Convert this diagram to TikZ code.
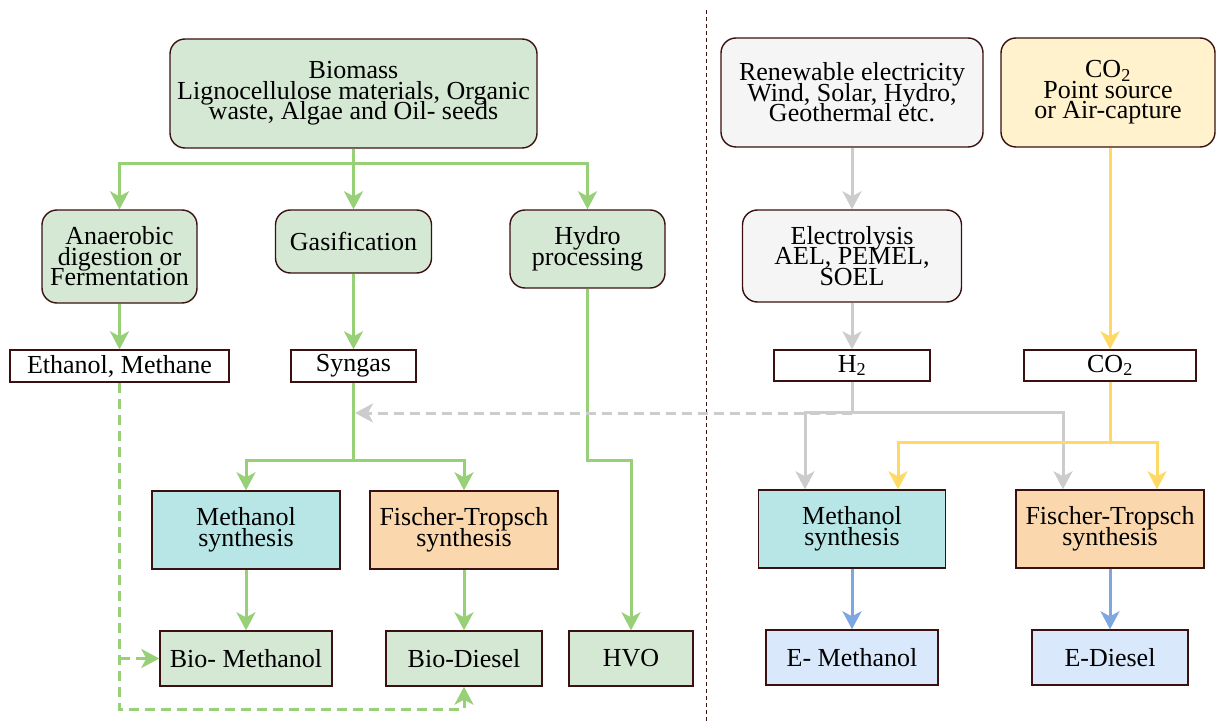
\documentclass[tikz,border=0pt]{standalone}
\usepackage{fontspec}
\setmainfont{Liberation Serif}
\usetikzlibrary{arrows.meta,calc}
\definecolor{brd}{HTML}{3A1010}
\definecolor{gfill}{HTML}{D5E8D4}
\definecolor{gline}{HTML}{97D077}
\definecolor{greyfill}{HTML}{F5F5F5}
\definecolor{greyline}{HTML}{CCCCCC}
\definecolor{yfill}{HTML}{FFF2CC}
\definecolor{yline}{HTML}{FFD966}
\definecolor{cfill}{HTML}{B8E6E6}
\definecolor{ofill}{HTML}{FAD7AC}
\definecolor{bfill}{HTML}{DAE8FC}
\definecolor{bline}{HTML}{7EA6E0}
\newcommand\mytightlines{\fontsize{26}{20.5}\selectfont\lineskiplimit=-100pt\relax\lineskip=0pt\relax}
\tikzset{
  boxbase/.style={draw=brd, line width=1.4pt, align=center, inner sep=0pt,
    font=\mytightlines, text=black},
  rbox/.style={boxbase, rounded corners=15pt},
  sbox/.style={boxbase},
  tip/.style={-{Stealth[length=18pt,width=19pt,inset=5pt]}},
  garrow/.style={tip, draw=gline, line width=3pt},
  gdash/.style={garrow, dash pattern=on 10pt off 6pt},
  grarrow/.style={tip, draw=greyline, line width=3pt},
  grdash/.style={grarrow, dash pattern=on 10pt off 6pt},
  yarrow/.style={tip, draw=yline, line width=3pt},
  barrow/.style={tip, draw=bline, line width=3pt},
}
\begin{document}
\begin{tikzpicture}[x=1pt,y=-1pt]
\useasboundingbox (0,0) rectangle (1216,722);
% divider
\draw[brd, line width=1pt, dash pattern=on 4pt off 3pt] (706,10) -- (706,722);

% left side nodes
\node[rbox, fill=gfill, minimum width=367pt, minimum height=109pt] (bio) at (353.5,93.5)
  {Biomass\\Lignocellulose materials, Organic\\waste, Algae and Oil- seeds};
\node[rbox, fill=gfill, minimum width=155pt, minimum height=93pt] (anae) at (119.5,256.5)
  {Anaerobic\\digestion or\\Fermentation};
\node[rbox, fill=gfill, minimum width=156pt, minimum height=63pt] (gas) at (353.5,241.5)
  {Gasification};
\node[rbox, fill=gfill, minimum width=155pt, minimum height=78pt] (hydro) at (587.5,249)
  {Hydro\\processing};
\node[sbox, fill=white, minimum width=219pt, minimum height=32pt] (eth) at (119.5,366)
  {Ethanol, Methane};
\node[sbox, fill=white, minimum width=125pt, minimum height=32pt] (syn) at (353.5,366)
  {Syngas};
\node[sbox, fill=cfill, minimum width=188pt, minimum height=78pt] (methL) at (246,530)
  {Methanol\\synthesis};
\node[sbox, fill=ofill, minimum width=188pt, minimum height=78pt] (ftL) at (464,530)
  {Fischer-Tropsch\\synthesis};
\node[sbox, fill=gfill, minimum width=172pt, minimum height=55pt] (biometh) at (246,658.5)
  {Bio- Methanol};
\node[sbox, fill=gfill, minimum width=156pt, minimum height=55pt] (biodiesel) at (464,658.5)
  {Bio-Diesel};
\node[sbox, fill=gfill, minimum width=124pt, minimum height=55pt] (hvo) at (631,658.5)
  {HVO};

% right side nodes
\node[rbox, fill=greyfill, minimum width=262pt, minimum height=109pt] (ren) at (852,92.5)
  {Renewable electricity\\Wind, Solar, Hydro,\\Geothermal etc.};
\node[rbox, fill=yfill, minimum width=214pt, minimum height=109pt] (co2src) at (1108,92.5)
  {CO\textsubscript{2}\\Point source\\or Air-capture};
\node[rbox, fill=greyfill, minimum width=219pt, minimum height=92pt] (elec) at (852,256)
  {Electrolysis\\AEL, PEMEL,\\SOEL};
\node[sbox, fill=white, minimum width=156pt, minimum height=31pt] (h2) at (852,365.5)
  {H\textsubscript{2}};
\node[sbox, fill=white, minimum width=172pt, minimum height=31pt] (co2) at (1110,365.5)
  {CO\textsubscript{2}};
\node[sbox, fill=cfill, minimum width=187pt, minimum height=78pt] (methR) at (852,529)
  {Methanol\\synthesis};
\node[sbox, fill=ofill, minimum width=188pt, minimum height=78pt] (ftR) at (1110,529)
  {Fischer-Tropsch\\synthesis};
\node[sbox, fill=bfill, minimum width=172pt, minimum height=55pt] (emeth) at (852,657.5)
  {E- Methanol};
\node[sbox, fill=bfill, minimum width=156pt, minimum height=55pt] (ediesel) at (1110,657.5)
  {E-Diesel};

% green connectors
\draw[garrow] (bio.south) -- ++(0,15) -| (anae.north);
\draw[garrow] (bio.south) -- (gas.north);
\draw[garrow] (bio.south) -- ++(0,15) -| (hydro.north);
\draw[garrow] (anae.south) -- (eth.north);
\draw[garrow] (gas.south) -- (syn.north);
\draw[garrow] (syn.south) -- ++(0,78) -| (methL.north);
\draw[garrow] (syn.south) -- ++(0,78) -| (ftL.north);
\draw[garrow] (hydro.south) -- ++(0,172) -| (hvo.north);
\draw[garrow] (methL.south) -- (biometh.north);
\draw[garrow] (ftL.south) -- (biodiesel.north);
\coordinate (dlow) at (120,709);
\draw[gdash] (eth.south) -- (eth.south |- dlow) -| (biodiesel.south);
\draw[gdash] (eth.south |- biometh.west) -- (biometh.west);

% grey connectors
\draw[grarrow] (ren.south) -- (elec.north);
\draw[grarrow] (elec.south) -- (h2.north);
\draw[grarrow] (h2.south) -- ++(0,31) -| ([xshift=-47pt]methR.north);
\draw[grarrow] (h2.south) -- ++(0,31) -| ([xshift=-47pt]ftR.north);
\coordinate (gtip) at (355,413);
\draw[grdash] (h2.south |- gtip) -- (gtip);

% yellow connectors
\draw[yarrow] (co2src.south -| co2.north) -- (co2.north);
\draw[yarrow] (co2.south) -- ++(0,61) -| ([xshift=46pt]methR.north);
\draw[yarrow] (co2.south) -- ++(0,61) -| ([xshift=47pt]ftR.north);

% blue connectors
\draw[barrow] (methR.south) -- (emeth.north);
\draw[barrow] (ftR.south) -- (ediesel.north);
\end{tikzpicture}
\end{document}
